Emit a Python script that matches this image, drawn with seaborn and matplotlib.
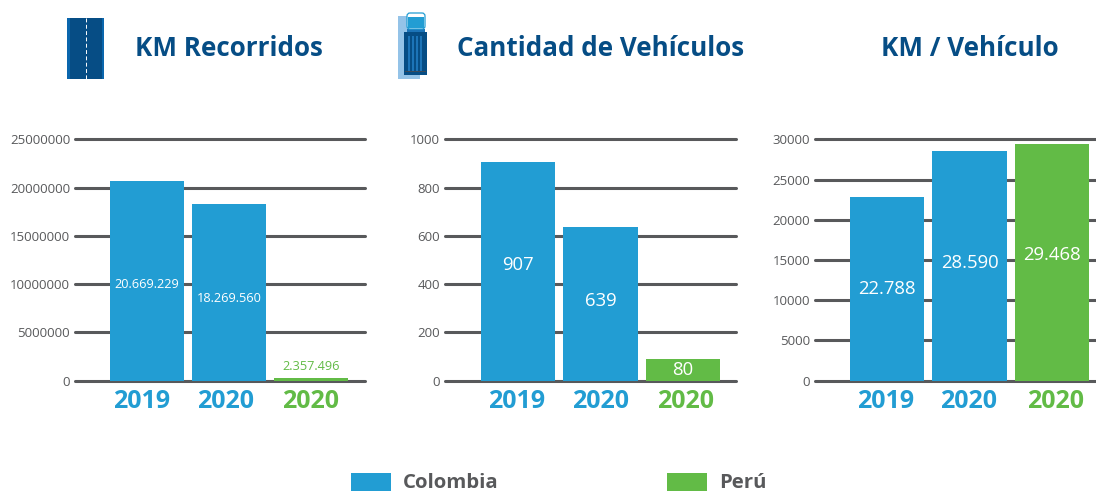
import matplotlib
matplotlib.use("Agg")
import matplotlib.pyplot as plt
from matplotlib.patches import Rectangle, FancyBboxPatch
import pandas as pd
import seaborn as sns

sns.set_theme(style="white")
FONT = "Open Sans"
plt.rcParams["font.family"] = [FONT, "DejaVu Sans"]

bars = ["Colombia 2019", "Colombia 2020", "Perú 2020"]
years = ["2019", "2020", "2020"]
countries = ["Colombia", "Colombia", "Perú"]
km_values = [20669229, 18269560, 300000]
km_labels = ["20.669.229", "18.269.560", "2.357.496"]
veh_values = [907, 639, 91]
veh_labels = ["907", "639", "80"]
ratio_values = [22788, 28590, 29468]
ratio_labels = ["22.788", "28.590", "29.468"]
km_ticks = [0, 5000000, 10000000, 15000000, 20000000, 25000000]
veh_ticks = [0, 200, 400, 600, 800, 1000]
ratio_ticks = [0, 5000, 10000, 15000, 20000, 25000, 30000]
titles = ["KM Recorridos", "Cantidad de Vehículos", "KM / Vehículo"]

BLUE = "#229dd3"
GREEN = "#62bb46"
GRID = "#58595b"
NAVY = "#064d85"
TICK = "#58595b"
W, H = 1096, 494
palette = {"Colombia": BLUE, "Perú": GREEN}

fig = plt.figure(figsize=(W / 100, H / 100), dpi=100, facecolor="white")


def px_axes(x0, x1, y0, y1):
    return fig.add_axes([x0 / W, 1 - y1 / H, (x1 - x0) / W, (y1 - y0) / H])


def panel(box, xlim, values, labels, ticks, label_y, label_size, year_pos):
    ax = px_axes(*box)
    df = pd.DataFrame({"bar": bars, "value": values, "country": countries})
    sns.barplot(data=df, x="bar", y="value", hue="country", palette=palette, dodge=False,
                width=0.9, saturation=1, legend=False, ax=ax, zorder=3, linewidth=0)
    ax.set_xlim(*xlim)
    ax.set_ylim(0, ticks[-1])
    ax.set_yticks(ticks)
    ax.set_yticklabels([str(t) for t in ticks])
    ax.set_xticks(year_pos)
    ax.set_xticklabels(years, fontsize=18, fontweight="bold")
    for t, c in zip(ax.get_xticklabels(), [BLUE, BLUE, GREEN]):
        t.set_color(c)
    ax.tick_params(axis="x", length=0, pad=6)
    ax.tick_params(axis="y", length=0, pad=3.5, labelsize=9.5, labelcolor=TICK)
    ax.set_xlabel("")
    ax.set_ylabel("")
    for s in ax.spines.values():
        s.set_visible(False)
    for t in ticks:
        ax.axhline(t, color=GRID, lw=2.2, zorder=1, clip_on=False)
    for i, (lab, y) in enumerate(zip(labels, label_y)):
        col = GREEN if y > values[i] else "white"
        ax.text(i, y, lab, ha="center", va="center", color=col,
                fontsize=label_size, zorder=5)
    return ax


panel((75, 365, 139.5, 380.5), (-0.878, 2.659), km_values, km_labels, km_ticks,
      [10000000, 8550000, 1500000], 9.2, [-0.06, 0.96, 2.0])
panel((445, 736, 139.5, 380.5), (-0.885, 2.64), veh_values, veh_labels, veh_ticks,
      [479, 330, 44], 13.3, [-0.02, 1.0, 2.03])
panel((815, 1096, 139.5, 380.5), (-0.873, 2.533), ratio_values, ratio_labels, ratio_ticks,
      [11390, 14630, 15620], 13.3, [-0.02, 0.99, 2.04])

ov = fig.add_axes([0, 0, 1, 1], facecolor="none")
ov.set_xlim(0, W)
ov.set_ylim(H, 0)
ov.axis("off")

for x, txt in zip([229, 600.5, 969.5], titles):
    ov.text(x, 48, txt, ha="center", va="center", color=NAVY, fontsize=18.7, fontweight="bold")

# road icon
ov.add_patch(Rectangle((67, 18), 37, 61, color=NAVY, lw=0))
ov.add_patch(Rectangle((67, 18), 3, 61, color="#0a66ad", lw=0))
ov.add_patch(Rectangle((102, 18), 2, 61, color="#0a66ad", lw=0))
ov.plot([85.5, 85.5], [18, 79], color="white", lw=0.7, ls=(0, (4, 2.5)))

# truck icon
ov.add_patch(Rectangle((398, 37), 22, 42, color="#94c3e8", lw=0))
ov.add_patch(Rectangle((398, 16), 14, 21, color="#94c3e8", lw=0))
ov.add_patch(Rectangle((404, 32), 23, 43, color=NAVY, lw=0))
for x in (408, 412, 416, 420):
    ov.add_patch(Rectangle((x, 36), 1.5, 35, color="#1c74b8", lw=0))
ov.add_patch(Rectangle((405, 71), 21, 1.5, color="#3c4b5a", lw=0))
ov.add_patch(Rectangle((407, 29), 18, 3, color="#1c74b8", lw=0))
ov.add_patch(FancyBboxPatch((408, 14), 16, 14, boxstyle="round,pad=1,rounding_size=3",
                            facecolor="white", edgecolor=BLUE, lw=0.9))
ov.add_patch(Rectangle((408, 17), 16, 11, color=BLUE, lw=0))

# legend
for x, c, txt in [(351, BLUE, "Colombia"), (667, GREEN, "Perú")]:
    ov.add_patch(Rectangle((x, 473), 40, 18, color=c, lw=0))
    ov.text(x + 52, 483, txt, ha="left", va="center", color=TICK, fontsize=14.7, fontweight="bold")

fig.savefig("out.png", dpi=100)
